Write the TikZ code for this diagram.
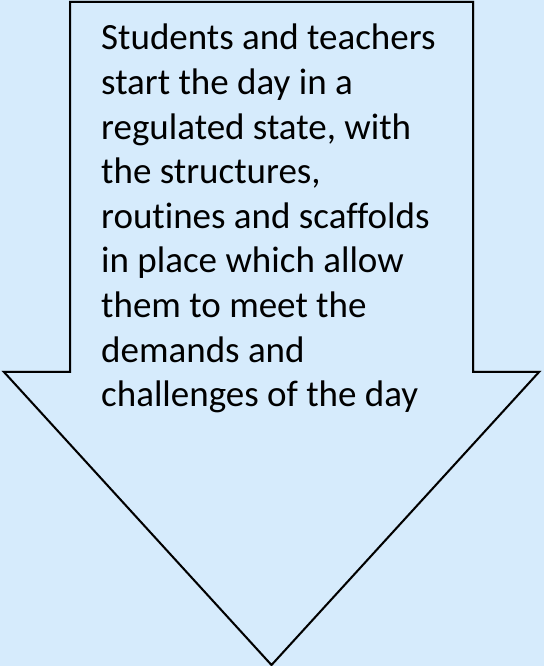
\documentclass[tikz,border=0pt]{standalone}
\usepackage{fontspec}
\setmainfont{Carlito}[Ligatures=NoCommon]
\definecolor{bgblue}{RGB}{214,235,252}
\tikzset{
  arrowshape/.style={draw=black, line width=2pt, line join=miter, fill=bgblue},
  shadowshape/.style={draw=black!35, line width=2.5pt, opacity=0.5},
  bodytext/.style={anchor=base west, inner sep=0pt}
}
\begin{document}
\begin{tikzpicture}[x=1pt,y=1pt]
\fill[bgblue] (0,0) rectangle (544,666);
\useasboundingbox (0,0) rectangle (544,666);
\coordinate (tl) at (70,664);
\coordinate (tr) at (473,664);
\coordinate (rs) at (473,294);
\coordinate (ro) at (539,294);
\coordinate (tip) at (271.5,1);
\coordinate (lo) at (4,294);
\coordinate (ls) at (70,294);
\draw[shadowshape, shift={(1.5,-1.5)}] (tl) -- (tr) -- (rs) -- (ro) -- (tip) -- (lo) -- (ls) -- cycle;
\draw[arrowshape] (tl) -- (tr) -- (rs) -- (ro) -- (tip) -- (lo) -- (ls) -- cycle;
\node[bodytext] (txt) at (101,616) {\parbox[t]{420pt}{\raggedright\fontsize{37}{44.6}\selectfont
Students and teachers\\
start the day in a\\
regulated state, with\\
the structures,\\
routines and scaffolds\\
in place which allow\\
them to meet the\\
demands and\\
challenges of the day}};
\end{tikzpicture}
\end{document}
